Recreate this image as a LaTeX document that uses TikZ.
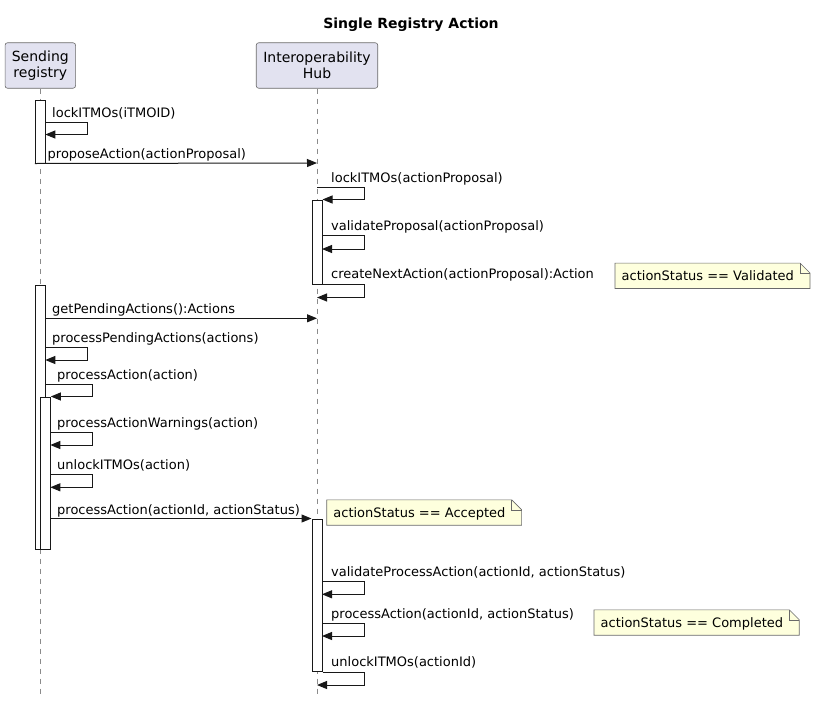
\documentclass[tikz,border=0pt]{standalone}
\usepackage{fontspec}
\setmainfont{DejaVu Sans}
\usetikzlibrary{arrows.meta,positioning,backgrounds}

\definecolor{partfill}{HTML}{E2E2F0}
\definecolor{notefill}{HTML}{FEFFDD}
\definecolor{umlline}{HTML}{181818}

\tikzset{
    title/.style={anchor=base, inner sep=0pt, font=\fontsize{14}{16}\selectfont\bfseries},
    participant/.style={draw=umlline!65, line width=0.6pt, fill=partfill, rounded corners=2.5pt,
        align=center, minimum height=45.5pt, inner sep=0pt, font=\fontsize{14}{16.3}\selectfont},
    lifeline/.style={umlline!50, line width=0.6pt, dash pattern=on 5pt off 5pt},
    actbar/.style={draw=umlline, fill=white, line width=1pt, minimum width=10pt, inner sep=0pt},
    msg/.style={umlline, line width=1pt, -{Triangle[length=10pt,width=8pt]}},
    lbl/.style={anchor=base west, inner sep=0pt, font=\fontsize{13}{15}\selectfont},
    notetext/.style={anchor=base west, inner xsep=6.5pt, inner ysep=5pt, text height=12.5pt,
        text depth=2.5pt, font=\fontsize{13}{15}\selectfont},
    notebox/.style={draw=umlline!65, line width=0.6pt, fill=notefill}
}

\begin{document}
\begin{tikzpicture}[x=1pt, y=-1pt]
    \useasboundingbox (0,0) rectangle (815,702);

    \node[title] (title) at (411,28) {Single Registry Action};

    \node[participant, minimum width=70.5pt] (send) at (40.3,65.5) {Sending\\registry};
    \node[participant, minimum width=121.5pt] (hub) at (317,65.5) {Interoperability\\Hub};

    % lifelines
    \coordinate (sendend) at (40.3,694);
    \coordinate (hubend) at (317,694);
    \draw[lifeline] (send.south) -- (sendend);
    \draw[lifeline] (hub.south) -- (hubend);

    % activations
    \node[actbar, minimum height=63pt] (sact1) at (40.3,131.5) {};
    \node[actbar, minimum height=84pt] (hact1) at (317,242) {};
    \node[actbar, minimum height=264pt] (sact2) at (40.3,417) {};
    \node[actbar, minimum height=152pt] (sact3) at (45.3,473) {};
    \node[actbar, minimum height=152.5pt] (hact2) at (317,595.25) {};

    % sending registry proposes
    \coordinate (lock1a) at (45.3,122);
    \coordinate (lock1b) at (45.3,134.5);
    \draw[msg] (lock1a) -- ++(42,0) |- (lock1b);
    \node[lbl] (lock1) at (52,117) {lockITMOs(iTMOID)};

    \coordinate (proposeb) at (317,163);
    \draw[msg] (sact1.south west) -- (proposeb);
    \node[lbl] (propose) at (47.5,158) {proposeAction(actionProposal)};

    % hub validates
    \coordinate (lock2a) at (317,187.5);
    \draw[msg] (lock2a) -- ++(47,0) |- (hact1.north east);
    \node[lbl] (lock2) at (331,182) {lockITMOs(actionProposal)};

    \coordinate (valida) at (322,235.5);
    \coordinate (validb) at (322,249);
    \draw[msg] (valida) -- ++(42,0) |- (validb);
    \node[lbl] (valid) at (331,230) {validateProposal(actionProposal)};

    \coordinate (createb) at (317,297.5);
    \draw[msg] (hact1.south east) -- ++(42,0) |- (createb);
    \node[lbl] (create) at (331,278.5) {createNextAction(actionProposal):Action};

    % sending registry processes
    \coordinate (pendb) at (317,318.3);
    \draw[msg] (sact2.east |- pendb) -- (pendb);
    \node[lbl] (pend) at (52,313.3) {getPendingActions():Actions};

    \coordinate (ppaa) at (45.3,347.3);
    \coordinate (ppab) at (45.3,360);
    \draw[msg] (ppaa) -- ++(42,0) |- (ppab);
    \node[lbl] (ppa) at (52,342.3) {processPendingActions(actions)};

    \coordinate (pacta) at (45.3,384.3);
    \draw[msg] (pacta) -- ++(47,0) |- (sact3.north east);
    \node[lbl] (pact) at (57,379.3) {processAction(action)};

    \coordinate (warna) at (50.3,432.7);
    \coordinate (warnb) at (50.3,445);
    \draw[msg] (warna) -- ++(42,0) |- (warnb);
    \node[lbl] (warn) at (57,427.7) {processActionWarnings(action)};

    \coordinate (unl1a) at (50.3,474);
    \coordinate (unl1b) at (50.3,487.3);
    \draw[msg] (unl1a) -- ++(42,0) |- (unl1b);
    \node[lbl] (unl1) at (57,469) {unlockITMOs(action)};

    \draw[msg] (sact3.east |- hact2.north west) -- (hact2.north west);
    \node[lbl] (pact2) at (57,514.3) {processAction(actionId, actionStatus)};

    % hub completes
    \coordinate (vpaa) at (322,581.7);
    \coordinate (vpab) at (322,594.3);
    \draw[msg] (vpaa) -- ++(42,0) |- (vpab);
    \node[lbl] (vpa) at (331,576.7) {validateProcessAction(actionId, actionStatus)};

    \coordinate (pact3a) at (322,623.3);
    \coordinate (pact3b) at (322,636);
    \draw[msg] (pact3a) -- ++(42,0) |- (pact3b);
    \node[lbl] (pact3) at (331,618.3) {processAction(actionId, actionStatus)};

    \coordinate (unl2b) at (317,685);
    \draw[msg] (hact2.south east) -- ++(42,0) |- (unl2b);
    \node[lbl] (unl2) at (331,666) {unlockITMOs(actionId)};

    % notes
    \node[notetext] (vnote) at (615,280.8) {actionStatus == Validated};
    \node[notetext] (anote) at (326.7,517.5) {actionStatus == Accepted};
    \node[notetext] (cnote) at (594,627.5) {actionStatus == Completed};
    \begin{scope}[on background layer]
        \foreach \n in {vnote,anote,cnote} {
            \draw[notebox] (\n.south west) -- (\n.north west) -- ([xshift=-0.5pt]\n.north east)
                -- ([xshift=9.5pt,yshift=-10pt]\n.north east) -- ([xshift=9.5pt]\n.south east) -- cycle;
            \draw[umlline!65, line width=0.6pt] ([xshift=-0.5pt]\n.north east) -- ++(0,10) -- ++(10,0);
        }
    \end{scope}
\end{tikzpicture}
\end{document}
